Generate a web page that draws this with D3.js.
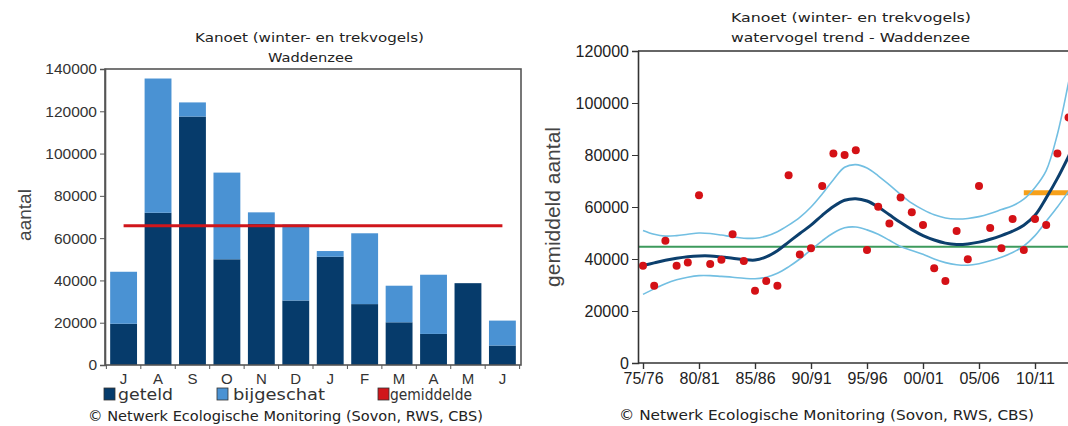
<!DOCTYPE html>
<html><head><meta charset="utf-8">
<script src="https://cdn.jsdelivr.net/npm/d3@7"></script>
<style>
html,body{margin:0;padding:0;background:#fff;overflow:hidden}
svg{display:block}
</style></head>
<body>
<svg id="c" width="1068" height="426"></svg>
<script>
// ---------- data: left chart (monthly) ----------
const months = ["J","A","S","O","N","D","J","F","M","A","M","J"];
const geteld =     [19500, 72000, 117500, 50000, 66700, 30500, 51200, 28800, 20200, 14700, 38700, 9200];
const bijgeschat = [24600, 63500,   6700, 41000,  5500, 36000,  2700, 33500, 17300, 28000,     0, 11800];
const gemiddelde = 65900;
const leftTicks = [0, 20000, 40000, 60000, 80000, 100000, 120000, 140000];
const legendLabels = ["geteld", "bijgeschat", "gemiddelde"];

// ---------- data: right chart (trend) ----------
const countYears = d3.range(1975, 2014);
const counts = [37400, 29700, 47000, 37400, 38700, 64500, 38100, 39700, 49500, 39200,
                27800, 31500, 29700, 72200, 41700, 44100, 68100, 80600, 80000, 81800,
                43500, 60100, 53700, 63700, 58000, 53100, 36400, 31500, 50800, 39900,
                68100, 51900, 44100, 55400, 43500, 55400, 53100, 80600, 94400];
const trendYears = d3.range(1975, 2016);
const trend = [37500, 38500, 39500, 40300, 40900, 41200, 41200, 40800, 40300, 39800,
               39600, 40800, 43200, 46500, 49800, 53000, 56800, 60200, 62600, 63200,
               62300, 60000, 57000, 54000, 51300, 49000, 47300, 46100, 45600, 45800,
               46500, 47600, 49000, 50700, 53000, 56800, 63500, 71000, 79500, 88500, 98000];
const upper = [51000, 49500, 48800, 49000, 49500, 50000, 49800, 49200, 48500, 48000,
               48000, 48800, 50500, 53000, 56000, 60000, 65000, 70500, 75300, 76300,
               75000, 72000, 68500, 64800, 61500, 59000, 57000, 55800, 55400, 55600,
               56300, 57500, 59000, 60500, 63000, 67500, 74000, 88000, 108000, 130000, 155000];
const lower = [26400, 28500, 30500, 32000, 33000, 33600, 33600, 33300, 33000, 32600,
               32400, 33000, 34500, 37000, 40000, 43500, 47000, 50000, 52000, 52300,
               51200, 49500, 47200, 44800, 43300, 41800, 40000, 38600, 37800, 37600,
               38200, 39300, 40700, 42500, 45000, 49000, 54500, 60000, 66000, 72000, 78000];
const meanAll = 44700;
const refLevel = 65500, refStart = 2009;
const rightTicksY = [0, 20000, 40000, 60000, 80000, 100000, 120000];
const rightTicksX = [1975, 1980, 1985, 1990, 1995, 2000, 2005, 2010];

const C = {dark:"#063b6b", light:"#4a92d3", red:"#d0161b", green:"#3d9a5c",
           orange:"#f6a01a", trend:"#0c3f6d", band:"#72bfe2", dot:"#d41116", axis:"#333"};
const numFont = "'Liberation Sans', Arial, sans-serif";
const txtFont = "'DejaVu Sans', Verdana, sans-serif";

const svg = d3.select("#c");

// ================= LEFT CHART =================
const L = {l:105, r:521, t:69, b:365};
const xb = d3.scaleBand().domain(d3.range(months.length)).range([L.l, L.r]).paddingInner(0.22).paddingOuter(0.15);
const yl = d3.scaleLinear().domain([0, 140000]).range([L.b, L.t]);
const gL = svg.append("g");

// bars
gL.selectAll("rect.g").data(geteld).join("rect")
  .attr("x", (d,i)=>xb(i)).attr("width", xb.bandwidth())
  .attr("y", d=>yl(d)).attr("height", d=>yl(0)-yl(d)).attr("fill", C.dark);
gL.selectAll("rect.b").data(bijgeschat).join("rect")
  .attr("x", (d,i)=>xb(i)).attr("width", xb.bandwidth())
  .attr("y", (d,i)=>yl(geteld[i]+d)).attr("height", d=>yl(0)-yl(d)).attr("fill", C.light);

// mean line
gL.append("line")
  .attr("x1", xb(0)+xb.bandwidth()/2).attr("x2", xb(months.length-1)+xb.bandwidth()/2)
  .attr("y1", yl(gemiddelde)).attr("y2", yl(gemiddelde))
  .attr("stroke", C.red).attr("stroke-width", 3);

// frame
gL.append("rect").attr("x", L.l).attr("y", L.t).attr("width", L.r-L.l).attr("height", L.b-L.t)
  .attr("fill","none").attr("stroke","#555").attr("stroke-width",1.6);

// y axis
const axL = d3.axisLeft(yl).tickValues(leftTicks).tickSize(5).tickPadding(3).tickFormat(d3.format("d"));
const gAxL = gL.append("g").attr("transform",`translate(${L.l},0)`).call(axL);
gAxL.select(".domain").attr("stroke","#555").attr("stroke-width",1.6);
gAxL.selectAll(".tick line").attr("stroke","#555");
gAxL.selectAll("text").attr("font-family",numFont).attr("font-size",15.5).attr("fill","#333");

// x axis (ticks between bars, labels centered)
const boundaries = d3.range(months.length+1).map(i => i<months.length ? xb(i)-xb.step()*xb.paddingInner()/2 : xb(i-1)+xb.bandwidth()+xb.step()*xb.paddingInner()/2);
gL.selectAll("line.xt").data(boundaries).join("line")
  .attr("x1",d=>d).attr("x2",d=>d).attr("y1",L.b).attr("y2",L.b+4).attr("stroke","#555");
gL.selectAll("text.xl").data(months).join("text")
  .attr("x",(d,i)=>xb(i)+xb.bandwidth()/2).attr("y",384)
  .attr("text-anchor","middle").attr("font-family",numFont).attr("font-size",15).attr("fill","#333")
  .text(d=>d);

// y label
gL.append("text").attr("transform","translate(31,215) rotate(-90)").attr("text-anchor","middle")
  .attr("font-family",numFont).attr("font-size",19).attr("fill","#444").text("aantal");

// titles
gL.append("text").attr("x",195).attr("y",42).attr("font-family",txtFont).attr("font-size",12.5)
  .attr("textLength",229).attr("lengthAdjust","spacingAndGlyphs").attr("fill","#222")
  .text("Kanoet (winter- en trekvogels)");
gL.append("text").attr("x",268).attr("y",62).attr("font-family",txtFont).attr("font-size",12.5)
  .attr("textLength",85).attr("lengthAdjust","spacingAndGlyphs").attr("fill","#222")
  .text("Waddenzee");

// legend
const legX = [[104,118,55],[217,233,92],[378,390,82]];
const legCol = [C.dark, C.light, C.red];
legendLabels.forEach((lab,i)=>{
  gL.append("rect").attr("x",legX[i][0]).attr("y",388).attr("width",11).attr("height",12)
    .attr("fill",legCol[i]).attr("stroke","#333").attr("stroke-width",0.8);
  gL.append("text").attr("x",legX[i][1]).attr("y",400).attr("font-family",txtFont).attr("font-size",15)
    .attr("textLength",legX[i][2]).attr("lengthAdjust","spacingAndGlyphs").attr("fill","#333").text(lab);
});
gL.append("text").attr("x",88).attr("y",421).attr("font-family",txtFont).attr("font-size",14.5)
  .attr("textLength",395).attr("lengthAdjust","spacingAndGlyphs").attr("fill","#222")
  .text("© Netwerk Ecologische Monitoring (Sovon, RWS, CBS)");

// ================= RIGHT CHART =================
const R = {l:638, t:51, b:363};
const xr = d3.scaleLinear().domain([1975, 2010]).range([643, 1035]);
R.r = xr(2017);
const yr = d3.scaleLinear().domain([0, 120000]).range([R.b, R.t]);
const gR = svg.append("g");
svg.append("defs").append("clipPath").attr("id","clipR").append("rect")
  .attr("x",R.l).attr("y",R.t).attr("width",R.r-R.l).attr("height",R.b-R.t);
const plot = gR.append("g").attr("clip-path","url(#clipR)");

// mean (green) and reference (orange)
plot.append("line").attr("x1",R.l).attr("x2",R.r).attr("y1",yr(meanAll)).attr("y2",yr(meanAll))
  .attr("stroke",C.green).attr("stroke-width",2);
plot.append("line").attr("x1",xr(refStart)).attr("x2",R.r).attr("y1",yr(refLevel)).attr("y2",yr(refLevel))
  .attr("stroke",C.orange).attr("stroke-width",5);

const line = arr => d3.line().x((d,i)=>xr(trendYears[i])).y(d=>yr(d)).curve(d3.curveCatmullRom)(arr);
plot.append("path").attr("d",line(upper)).attr("fill","none").attr("stroke",C.band).attr("stroke-width",1.6);
plot.append("path").attr("d",line(lower)).attr("fill","none").attr("stroke",C.band).attr("stroke-width",1.6);
plot.append("path").attr("d",line(trend)).attr("fill","none").attr("stroke",C.trend).attr("stroke-width",3);

plot.selectAll("circle").data(counts).join("circle")
  .attr("cx",(d,i)=>xr(countYears[i])).attr("cy",d=>yr(d)).attr("r",4).attr("fill",C.dot);

// axes
gR.append("line").attr("x1",R.l).attr("x2",R.r).attr("y1",R.t).attr("y2",R.t).attr("stroke","#333").attr("stroke-width",1.6);
const axRY = d3.axisLeft(yr).tickValues(rightTicksY).tickSize(6).tickPadding(3).tickFormat(d3.format("d"));
const gAy = gR.append("g").attr("transform",`translate(${R.l},0)`).call(axRY);
gAy.select(".domain").attr("stroke","#333").attr("stroke-width",1.6);
gAy.selectAll(".tick line").attr("stroke","#333");
gAy.selectAll("text").attr("font-family",numFont).attr("font-size",16).attr("fill","#222");

gR.append("line").attr("x1",R.l).attr("x2",R.r).attr("y1",R.b).attr("y2",R.b).attr("stroke","#333").attr("stroke-width",1.6);
const axRX = d3.axisBottom(xr).tickValues(rightTicksX).tickSize(6).tickPadding(4)
  .tickFormat(y => d3.format("02d")(y%100) + "/" + d3.format("02d")((y+1)%100));
const gAx = gR.append("g").attr("transform",`translate(0,${R.b})`).call(axRX);
gAx.select(".domain").remove();
gAx.selectAll(".tick line").attr("stroke","#333").attr("stroke-width",1.4);
gAx.selectAll("text").attr("font-family",numFont).attr("font-size",16).attr("fill","#222");

gR.append("text").attr("transform","translate(560,207) rotate(-90)").attr("text-anchor","middle")
  .attr("font-family",numFont).attr("font-size",21).attr("fill","#444").text("gemiddeld aantal");

gR.append("text").attr("x",731).attr("y",22).attr("font-family",txtFont).attr("font-size",12.5)
  .attr("textLength",240).attr("lengthAdjust","spacingAndGlyphs").attr("fill","#222")
  .text("Kanoet (winter- en trekvogels)");
gR.append("text").attr("x",731).attr("y",42).attr("font-family",txtFont).attr("font-size",12.5)
  .attr("textLength",239).attr("lengthAdjust","spacingAndGlyphs").attr("fill","#222")
  .text("watervogel trend - Waddenzee");
gR.append("text").attr("x",619).attr("y",420).attr("font-family",txtFont).attr("font-size",14.5)
  .attr("textLength",415).attr("lengthAdjust","spacingAndGlyphs").attr("fill","#222")
  .text("© Netwerk Ecologische Monitoring (Sovon, RWS, CBS)");
</script>
</body></html>
